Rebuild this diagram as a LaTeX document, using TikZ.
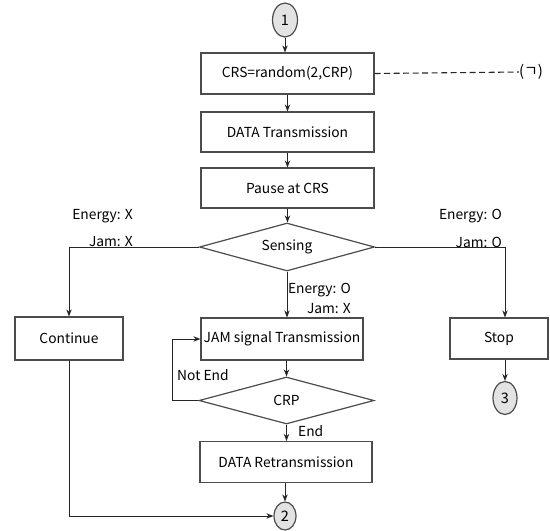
\documentclass[tikz,border=0pt]{standalone}
\usepackage{fontspec}
\setmainfont{Noto Sans CJK KR}
\usetikzlibrary{shapes.geometric,arrows.meta}
\tikzset{
	blk/.style={draw=gray!60!black,line width=1.2pt,fill=white,inner sep=0pt,font=\fontsize{13.8}{16}\selectfont},
	dec/.style={blk,diamond,aspect=3.6},
	con/.style={draw=gray!60!black,line width=1.2pt,fill=gray!22,ellipse,inner sep=0pt,font=\fontsize{14.5}{16}\selectfont},
	arr/.style={line width=1pt,draw=gray!30!black,-{Stealth[length=7pt,width=5.5pt]}},
	lbl/.style={inner sep=0pt,font=\fontsize{13.8}{16}\selectfont}
}
\begin{document}
	\begin{tikzpicture}[x=1pt,y=-1pt]
		\useasboundingbox(0,0)rectangle(550,531);
		\draw(285,20)node[con,minimum width=25pt,minimum height=34pt](c1){1};
		\draw(287.5,73.5)node[blk,minimum width=173pt,minimum height=41pt](crs){CRS=random(2,CRP)};
		\draw(287.5,132)node[blk,minimum width=173pt,minimum height=40pt](dtx){DATA Transmission};
		\draw(287.5,188)node[blk,minimum width=173pt,minimum height=40pt](pause){Pause at CRS};
		\draw(287,247)node[dec,minimum width=175pt,minimum height=48pt](sense){Sensing};
		\draw(69,338.5)node[blk,minimum width=108pt,minimum height=43pt](cont){Continue};
		\draw(282,339)node[blk,minimum width=162pt,minimum height=42pt](jam){JAM signal Transmission};
		\draw(286.5,400.5)node[dec,minimum width=175pt,minimum height=47pt](crp){CRP};
		\draw(286,462)node[blk,minimum width=172pt,minimum height=41pt](retx){DATA Retransmission};
		\draw(285,516)node[con,minimum width=22pt,minimum height=28pt](c2){2};
		\draw(499,338.5)node[blk,minimum width=98pt,minimum height=41pt](stop){Stop};
		\draw(505,398)node[con,minimum width=24pt,minimum height=33pt](c3){3};
		\draw(531,72)node[lbl,font=\fontsize{15}{16}\selectfont](ref){(ㄱ)};
		% labels
		\draw(133,216)node[lbl,anchor=east]{Energy: X};
		\draw(133,242)node[lbl,anchor=east]{Jam: X};
		\draw(502,216)node[lbl,anchor=east]{Energy: O};
		\draw(502,242)node[lbl,anchor=east]{Jam: O};
		\draw(351,290)node[lbl,anchor=east]{Energy: O};
		\draw(351,309)node[lbl,anchor=east]{Jam: X};
		\draw(177,375)node[lbl,anchor=west]{Not End};
		\draw(298,431)node[lbl,anchor=west]{End};
		% connectors
		\draw[arr](c1)--(c1|-crs.north);
		\draw[arr](crs)--(dtx);
		\draw[arr](dtx)--(pause);
		\draw[arr](pause.south)--(pause.south|-sense.north);
		\draw[arr](sense.west)-|(cont.north);
		\draw[arr](sense.east)-|([xshift=6pt]stop.north);
		\draw[arr](sense.south)--(sense.south|-jam.north);
		\draw[arr](crp.north|-jam.south)--(crp.north);
		\draw[arr](crp.west)--++(-26,0)|-(jam.west);
		\draw[arr](crp.south)--(crp.south|-retx.north);
		\draw[arr](c2|-retx.south)--(c2.north);
		\draw[arr](cont.south)|-(c2.west);
		\draw[arr]([xshift=6pt]stop.south)--(c3.north);
		\draw[line width=1.1pt,dash pattern=on 6pt off 3.5pt,gray!30!black](crs.east)--(ref.west);
	\end{tikzpicture}
\end{document}
